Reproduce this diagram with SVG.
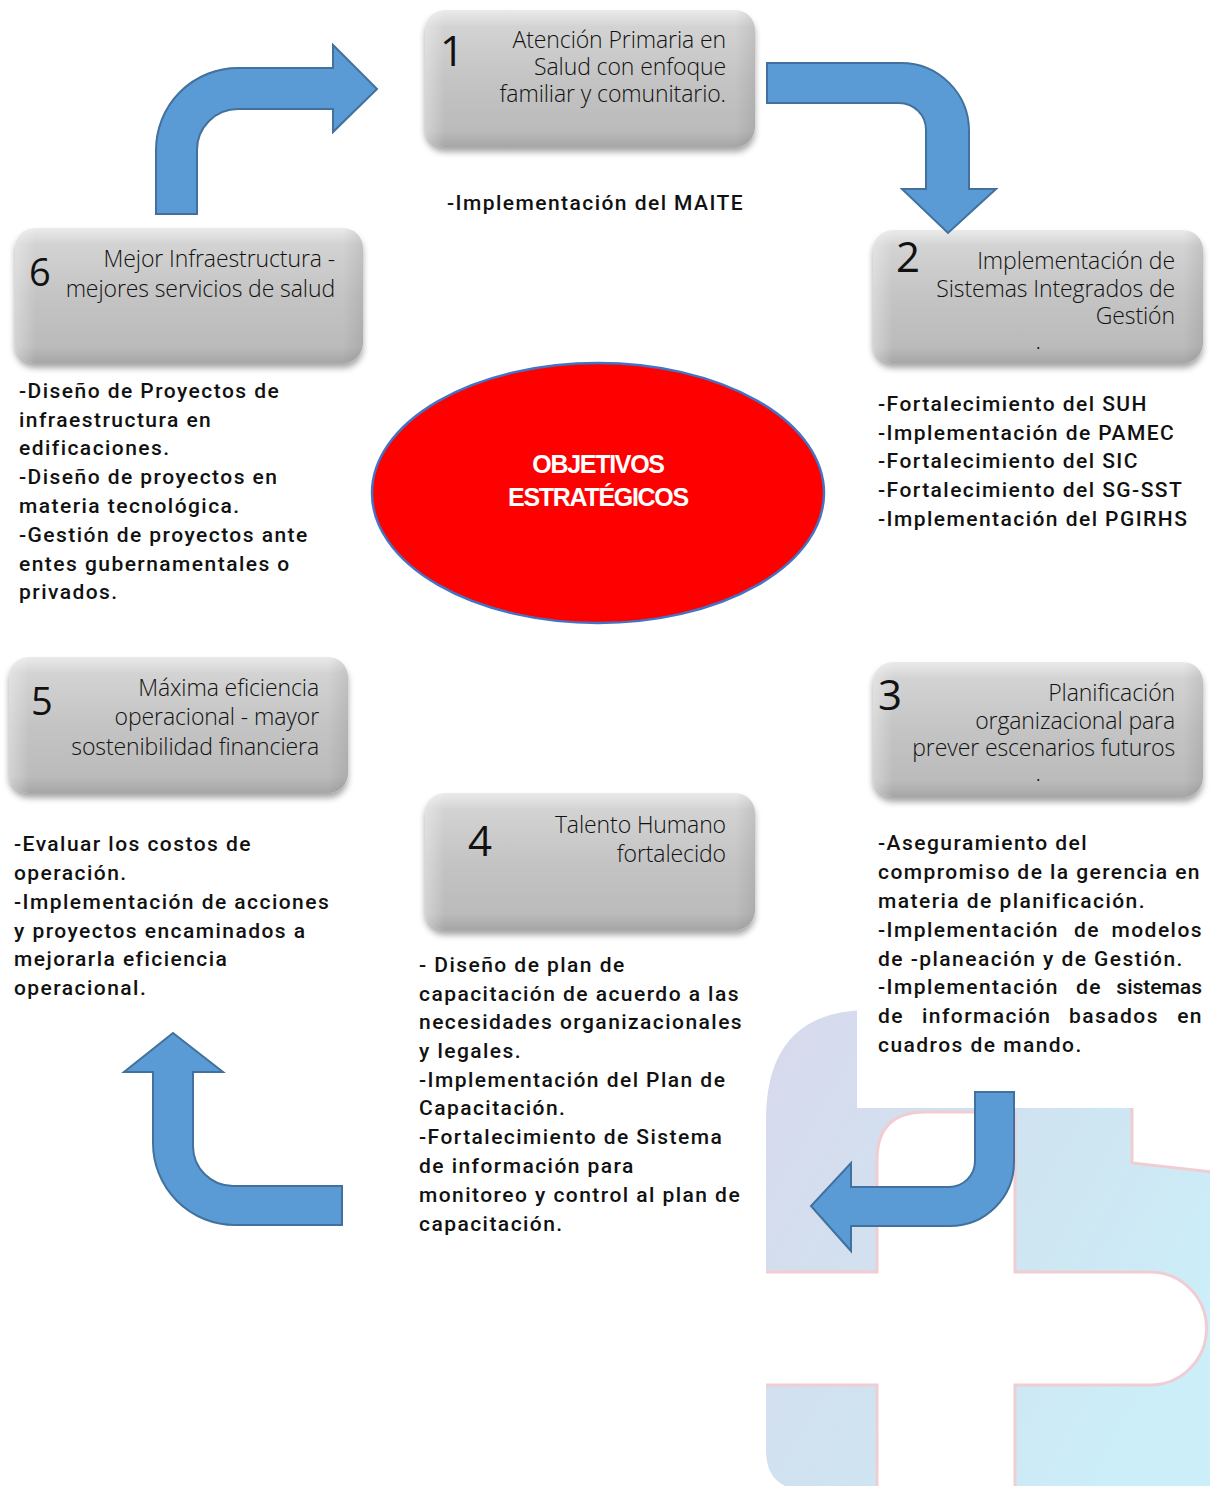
<svg xmlns="http://www.w3.org/2000/svg" width="1210" height="1486" viewBox="0 0 1210 1486">
<defs>
<linearGradient id="gBox" x1="0" y1="0" x2="0" y2="1">
<stop offset="0" stop-color="#ebebeb"/>
<stop offset="0.12" stop-color="#d3d3d3"/>
<stop offset="0.5" stop-color="#c4c4c4"/>
<stop offset="0.88" stop-color="#bbbbbb"/>
<stop offset="1" stop-color="#a6a6a6"/>
</linearGradient>
<linearGradient id="gEdge" x1="0" y1="0" x2="1" y2="0">
<stop offset="0" stop-color="#ffffff" stop-opacity="0.35"/>
<stop offset="0.06" stop-color="#ffffff" stop-opacity="0"/>
<stop offset="0.94" stop-color="#000000" stop-opacity="0"/>
<stop offset="1" stop-color="#000000" stop-opacity="0.08"/>
</linearGradient>
<linearGradient id="gLogo" x1="0" y1="0" x2="1" y2="0.6">
<stop offset="0" stop-color="#d8d9ec"/>
<stop offset="0.5" stop-color="#d0e2f0"/>
<stop offset="1" stop-color="#cbeef8"/>
</linearGradient>
<filter id="shadow" x="-10%" y="-10%" width="120%" height="135%">
<feDropShadow dx="0" dy="5" stdDeviation="3" flood-color="#000" flood-opacity="0.35"/>
</filter>
<style>
.box{fill:url(#gBox);filter:url(#shadow);}
.bevel{fill:url(#gEdge);}
.num{font-family:"Open Sans","Liberation Sans",sans-serif;fill:#111;}
.big{font-size:42px;}
.small{font-size:38px;}
.title{font-family:"Open Sans","Liberation Sans",sans-serif;font-weight:350;font-size:23px;fill:#111;text-anchor:end;letter-spacing:-0.1px;}
.desc{font-family:Roboto,"Liberation Sans",sans-serif;font-weight:500;font-size:21px;fill:#111;letter-spacing:1.45px;}
.end{text-anchor:end;}
.tight{letter-spacing:0px;}
.arrow{fill:#5b9bd5;stroke:#41719c;stroke-width:2;stroke-linejoin:miter;}
.center-text{font-family:"Liberation Sans",Arial,sans-serif;font-weight:bold;font-size:25px;fill:#fff;text-anchor:middle;letter-spacing:-1.3px;}
</style>
</defs>
<rect width="1210" height="1486" fill="#ffffff"/>

<g id="watermark">
<path d="M800,1490 Q766,1486 766,1450 V1120 Q766,1012 866,1010 H1132 V1163 L1212,1172 V1490 Z" fill="url(#gLogo)"/>
<path d="M1132,1108 V1163 L1212,1172" fill="none" stroke="#f0cdd2" stroke-width="3"/>
<path d="M760,1272 H877 V1160 Q877,1112 925,1112 H1015 V1272 H1150 A56,56 0 0 1 1150,1385 H1015 V1492 H877 V1385 H760 Z" fill="#ffffff"/>
<path d="M766,1272 H877 V1160 Q877,1112 925,1112 H1015 V1272 H1150 A56,56 0 0 1 1150,1385 H1015 V1490 M877,1490 V1385 H766" fill="none" stroke="#f0cdd2" stroke-width="3"/>
<rect x="857" y="1000" width="353" height="108" fill="#ffffff"/>
</g>

<g id="node-1">
<rect class="box" x="425" y="10" width="330" height="137" rx="20"/>
<rect class="bevel" x="425" y="10" width="330" height="137" rx="20"/>
<text class="num big" x="440" y="66">1</text>
<text class="title"><tspan x="726" y="48">Atención Primaria en</tspan><tspan x="726" y="75">Salud con enfoque</tspan><tspan x="726" y="102">familiar y comunitario.</tspan></text>
<text class="desc" x="447" y="210">-Implementación del MAITE</text>
</g>

<g id="node-2">
<rect class="box" x="873" y="230" width="330" height="133" rx="20"/>
<rect class="bevel" x="873" y="230" width="330" height="133" rx="20"/>
<text class="num big" x="896" y="272">2</text>
<text class="title"><tspan x="1175" y="269">Implementación de</tspan><tspan x="1175" y="297">Sistemas Integrados de</tspan><tspan x="1175" y="324">Gestión</tspan></text>
<text class="title" x="1041" y="349">.</text>
<text class="desc"><tspan x="878" y="411">-Fortalecimiento del SUH</tspan><tspan x="878" y="440">-Implementación de PAMEC</tspan><tspan x="878" y="468">-Fortalecimiento del SIC</tspan><tspan x="878" y="497">-Fortalecimiento del SG-SST</tspan><tspan x="878" y="526">-Implementación del PGIRHS</tspan></text>
</g>

<g id="node-3">
<rect class="box" x="873" y="662" width="330" height="135" rx="20"/>
<rect class="bevel" x="873" y="662" width="330" height="135" rx="20"/>
<text class="num big" x="878" y="710">3</text>
<text class="title"><tspan x="1175" y="701">Planificación</tspan><tspan x="1175" y="729">organizacional para</tspan><tspan x="1175" y="756">prever escenarios futuros</tspan></text>
<text class="title" x="1041" y="781">.</text>
<text class="desc"><tspan x="878" y="850">-Aseguramiento del</tspan><tspan x="878" y="879" textLength="323" lengthAdjust="spacing">compromiso de la gerencia en</tspan><tspan x="878" y="908">materia de planificación.</tspan><tspan x="878" y="937">-Implementación</tspan><tspan x="1074" y="937">de</tspan><tspan class="end" x="1203" y="937">modelos</tspan><tspan x="878" y="966">de -planeación y de Gestión.</tspan><tspan x="878" y="994">-Implementación</tspan><tspan x="1076" y="994">de</tspan><tspan class="end tight" x="1202" y="994">sistemas</tspan><tspan x="878" y="1023">de</tspan><tspan x="922" y="1023">información</tspan><tspan x="1069" y="1023">basados</tspan><tspan class="end" x="1203" y="1023">en</tspan><tspan x="878" y="1052">cuadros de mando.</tspan></text>
</g>

<g id="node-4">
<rect class="box" x="425" y="793" width="330" height="137" rx="20"/>
<rect class="bevel" x="425" y="793" width="330" height="137" rx="20"/>
<text class="num big" x="468" y="856">4</text>
<text class="title"><tspan x="726" y="833">Talento Humano</tspan><tspan x="726" y="862">fortalecido</tspan></text>
<text class="desc"><tspan x="419" y="972">- Diseño de plan de</tspan><tspan x="419" y="1001">capacitación de acuerdo a las</tspan><tspan x="419" y="1029">necesidades organizacionales</tspan><tspan x="419" y="1058">y legales.</tspan><tspan x="419" y="1087">-Implementación del Plan de</tspan><tspan x="419" y="1115">Capacitación.</tspan><tspan x="419" y="1144">-Fortalecimiento de Sistema</tspan><tspan x="419" y="1173">de información para</tspan><tspan x="419" y="1202">monitoreo y control al plan de</tspan><tspan x="419" y="1231">capacitación.</tspan></text>
</g>

<g id="node-5">
<rect class="box" x="9" y="657" width="339" height="136" rx="20"/>
<rect class="bevel" x="9" y="657" width="339" height="136" rx="20"/>
<text class="num small" x="31" y="715">5</text>
<text class="title"><tspan x="319" y="696">Máxima eficiencia</tspan><tspan x="319" y="725">operacional - mayor</tspan><tspan x="319" y="755">sostenibilidad financiera</tspan></text>
<text class="desc"><tspan x="14" y="851">-Evaluar los costos de</tspan><tspan x="14" y="880">operación.</tspan><tspan x="14" y="909">-Implementación de acciones</tspan><tspan x="14" y="938">y proyectos encaminados a</tspan><tspan x="14" y="966">mejorarla eficiencia</tspan><tspan x="14" y="995">operacional.</tspan></text>
</g>

<g id="node-6">
<rect class="box" x="15" y="228" width="348" height="135" rx="20"/>
<rect class="bevel" x="15" y="228" width="348" height="135" rx="20"/>
<text class="num small" x="29" y="286">6</text>
<text class="title"><tspan x="335" y="267">Mejor Infraestructura -</tspan><tspan x="335" y="297">mejores servicios de salud</tspan></text>
<text class="desc"><tspan x="19" y="398">-Diseño de Proyectos de</tspan><tspan x="19" y="427">infraestructura en</tspan><tspan x="19" y="455">edificaciones.</tspan><tspan x="19" y="484">-Diseño de proyectos en</tspan><tspan x="19" y="513">materia tecnológica.</tspan><tspan x="19" y="542">-Gestión de proyectos ante</tspan><tspan x="19" y="571">entes gubernamentales o</tspan><tspan x="19" y="599">privados.</tspan></text>
</g>

<g id="center">
<ellipse cx="598" cy="493" rx="226" ry="130" fill="#ff0000" stroke="#4472c4" stroke-width="2.5"/>
<text class="center-text"><tspan x="598" y="473">OBJETIVOS</tspan><tspan x="598" y="506">ESTRATÉGICOS</tspan></text>
</g>

<g id="connectors">
<path class="arrow" d="M156,214 V150 A82,82 0 0 1 238,68 H333 V45 L377,89 L333,132 V109 H238 A41,41 0 0 0 197,150 V214 Z"/>
<path class="arrow" d="M767,63 H901 A68,68 0 0 1 969,131 V189 H996 L948,233 L902,189 H926 V130 A27,27 0 0 0 899,103 H767 Z"/>
<path class="arrow" d="M975,1092 H1014 V1162 A64,64 0 0 1 950,1226 H851 V1251 L811,1206 L851,1163 V1187 H949 A26,26 0 0 0 975,1161 Z"/>
<path class="arrow" d="M342,1186 V1225 H235 A82,82 0 0 1 153,1143 V1072 H124 L173,1033 L223,1072 H193 V1146 A40,40 0 0 0 233,1186 Z"/>
</g>
</svg>
